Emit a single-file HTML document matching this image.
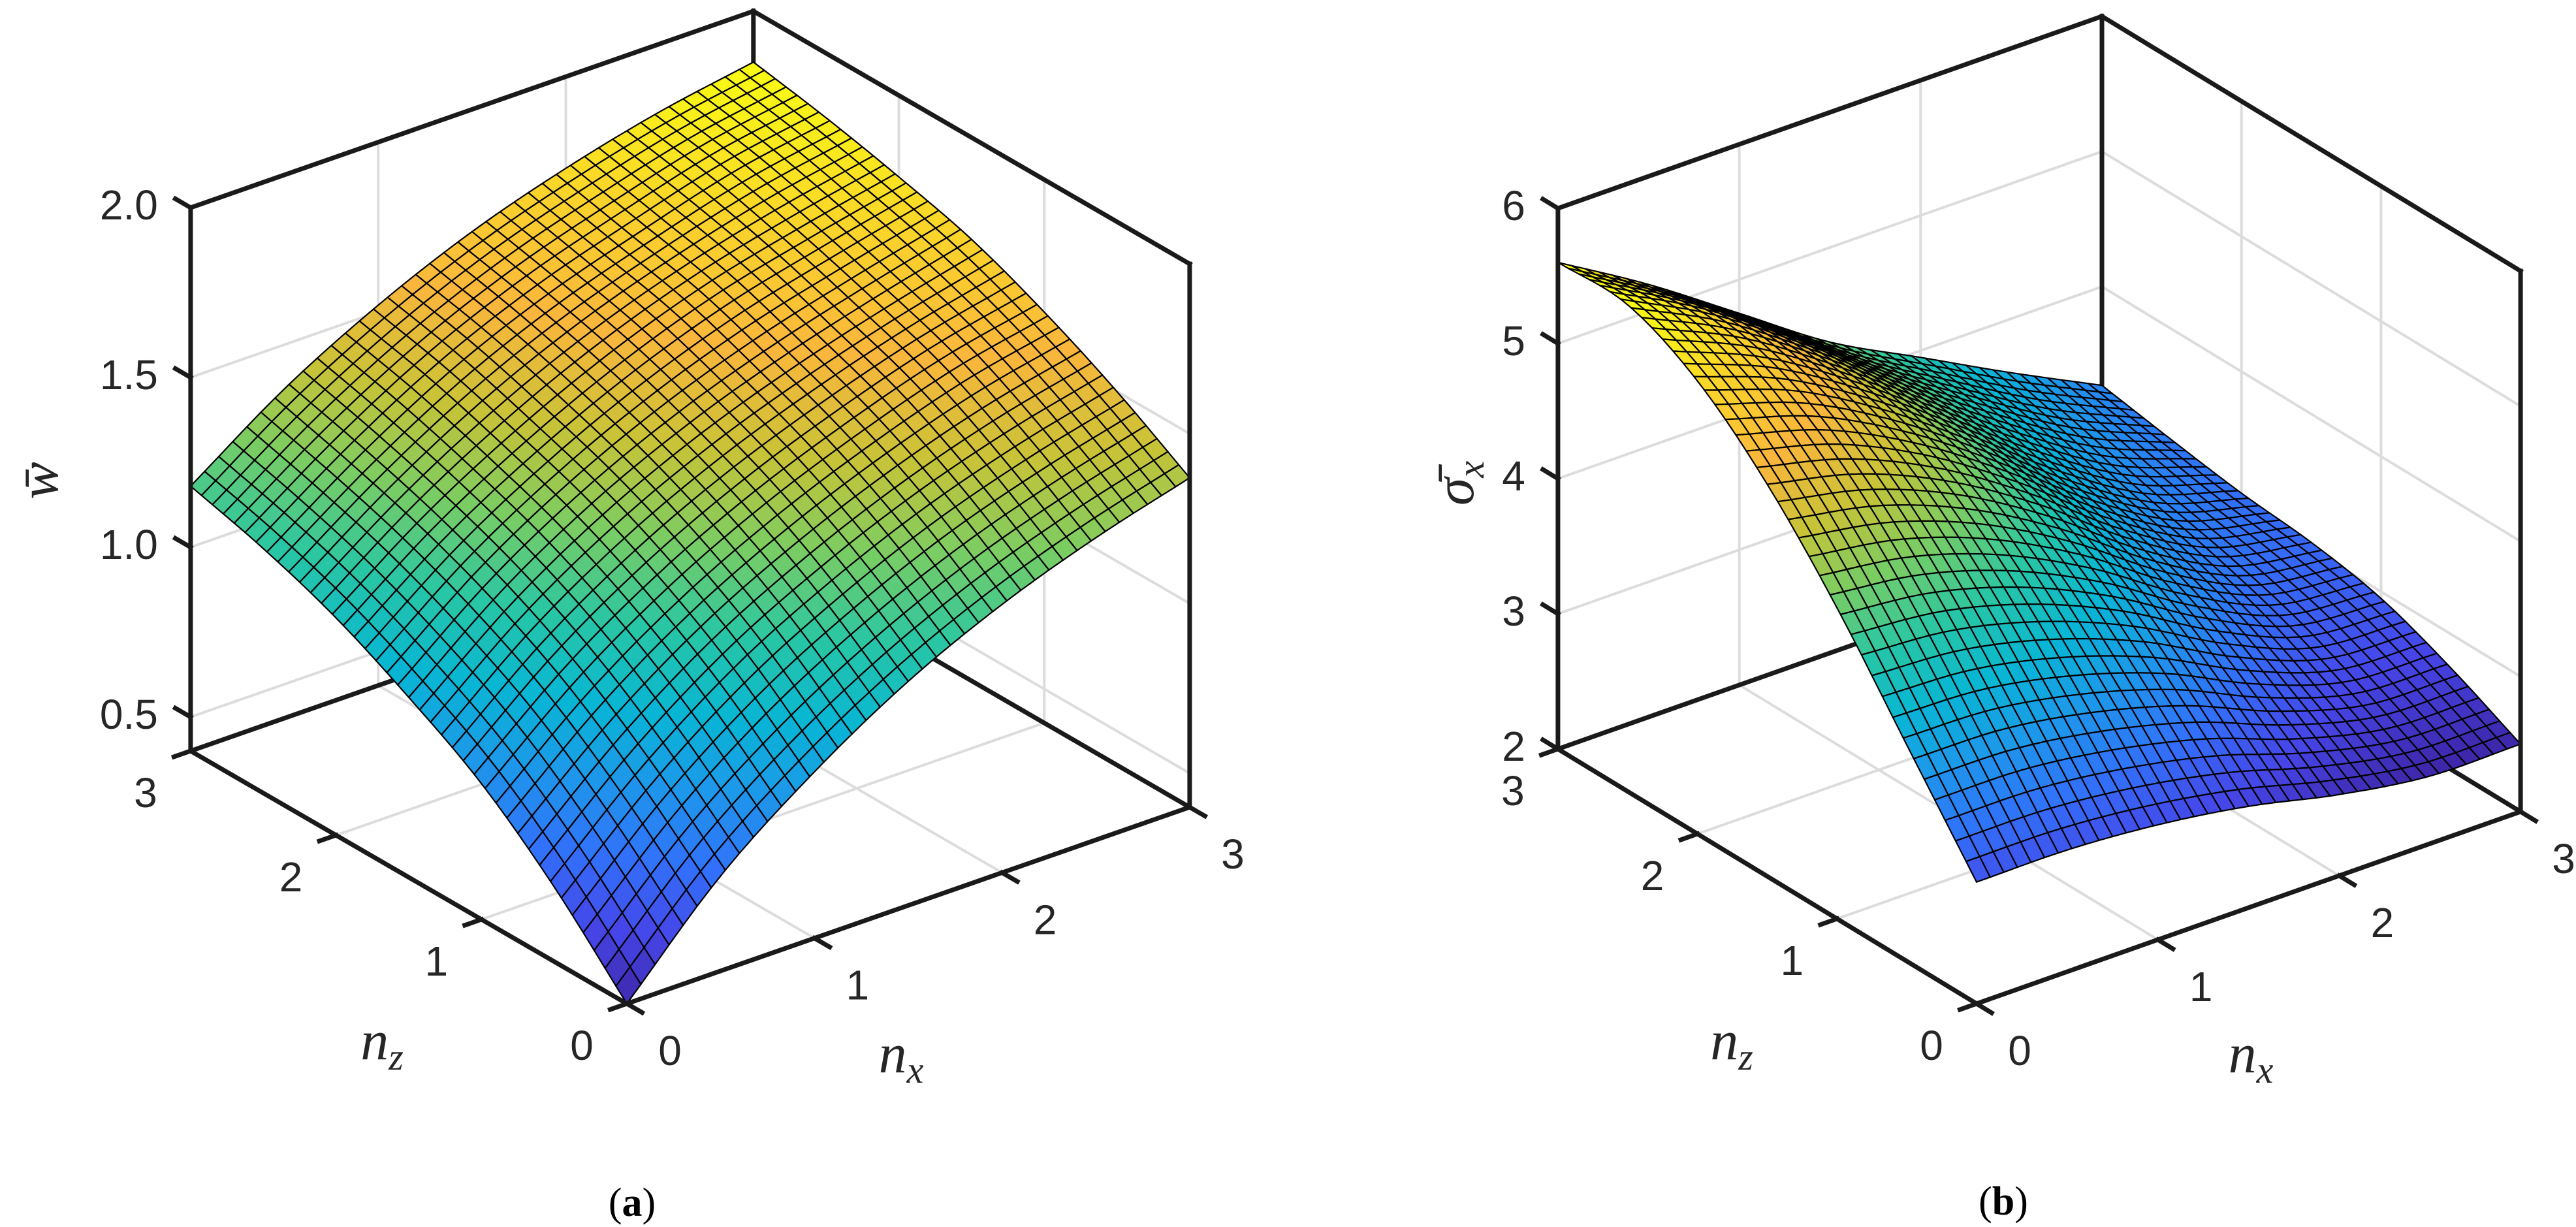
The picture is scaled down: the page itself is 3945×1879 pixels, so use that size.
<!DOCTYPE html>
<html><head><meta charset="utf-8"><title>Surface plots</title>
<style>html,body{margin:0;padding:0;background:#fff}svg{display:block}</style></head>
<body>
<svg id="fig" xmlns="http://www.w3.org/2000/svg" width="3945" height="1879" viewBox="0 0 3945 1879">
<rect x="0" y="0" width="3945" height="1879" fill="#fff"/>
<g id="chartA"></g>
<g id="chartB"></g>
<text x="968" y="1862" font-family="Liberation Serif, serif" font-size="62" text-anchor="middle" fill="#000">(<tspan font-weight="bold">a</tspan>)</text>
<text x="3068" y="1860" font-family="Liberation Serif, serif" font-size="62" text-anchor="middle" fill="#000">(<tspan font-weight="bold">b</tspan>)</text>
</svg>
<script>
// ---- data ----
const gridNx = [0, 0.5, 1, 1.5, 2, 2.5, 3];
const gridNz = [0, 0.5, 1, 1.5, 2, 2.5, 3];
// w-bar values, rows = nz, columns = nx
const wValues = [
 [0.40,0.68,0.89,1.06,1.19,1.29,1.37],
 [0.62,0.87,1.07,1.22,1.34,1.43,1.50],
 [0.80,1.03,1.21,1.35,1.46,1.55,1.61],
 [0.93,1.15,1.32,1.45,1.55,1.63,1.70],
 [1.04,1.24,1.40,1.53,1.63,1.70,1.76],
 [1.12,1.31,1.47,1.59,1.68,1.76,1.81],
 [1.18,1.37,1.52,1.64,1.73,1.80,1.85]
];
// sigma-x-bar values, rows = nz, columns = nx
const sValues = [
 [2.90,2.90,2.85,2.75,2.60,2.50,2.50],
 [3.60,3.58,3.46,3.26,2.97,2.77,2.75],
 [4.30,4.22,4.02,3.71,3.31,3.01,2.95],
 [4.90,4.74,4.45,4.04,3.55,3.18,3.05],
 [5.35,5.10,4.71,4.23,3.72,3.31,3.10],
 [5.60,5.26,4.81,4.32,3.87,3.46,3.18],
 [5.60,5.20,4.75,4.30,3.95,3.60,3.27]
];
const nxTicks = [0,1,2,3];
const nzTicks = [0,1,2,3];
const zTicksA = [0.5,1.0,1.5,2.0];
const zTickLabelsA = ['0.5','1.0','1.5','2.0'];
const zTicksB = [2,3,4,5,6];
const zTickLabelsB = ['2','3','4','5','6'];

const NS='http://www.w3.org/2000/svg';
const parula=[[0,[62,38,168]],[0.1,[70,70,232]],[0.2,[50,112,250]],[0.3,[30,150,235]],[0.4,[8,182,212]],[0.5,[40,198,165]],[0.6,[120,205,100]],[0.7,[200,195,55]],[0.8,[250,182,60]],[0.9,[250,212,42]],[1,[249,251,20]]];
function cmap(t){t=Math.max(0,Math.min(1,t));for(let i=1;i<parula.length;i++){if(t<=parula[i][0]){const a=parula[i-1],b=parula[i];const f=(t-a[0])/(b[0]-a[0]);const c=a[1].map((v,k)=>Math.round(v+(b[1][k]-v)*f));return 'rgb('+c.join(',')+')';}}return 'rgb(249,251,20)';}
function cr(p0,p1,p2,p3,t){return 0.5*((2*p1)+(-p0+p2)*t+(2*p0-5*p1+4*p2-p3)*t*t+(-p0+3*p1-3*p2+p3)*t*t*t);}
function getV(d,r,c){const n=d.length,m=d[0].length;
 if(r<0)return 2*getV(d,0,c)-getV(d,1,c);
 if(r>n-1)return 2*getV(d,n-1,c)-getV(d,n-2,c);
 if(c<0)return 2*getV(d,r,0)-getV(d,r,1);
 if(c>m-1)return 2*getV(d,r,m-1)-getV(d,r,m-2);
 return d[r][c];}
function interp(d,gc,gr){const n=d.length,m=d[0].length;
 const r0=Math.min(Math.floor(gr),n-2),tr=gr-r0;const c0=Math.min(Math.floor(gc),m-2),tc=gc-c0;
 const rows=[];for(let k=-1;k<=2;k++){rows.push(cr(getV(d,r0+k,c0-1),getV(d,r0+k,c0),getV(d,r0+k,c0+1),getV(d,r0+k,c0+2),tc));}
 return cr(rows[0],rows[1],rows[2],rows[3],tr);}
function el(parent,tag,attrs){const e=document.createElementNS(NS,tag);for(const k in attrs)e.setAttribute(k,attrs[k]);parent.appendChild(e);return e;}

function drawChart(g,cfg){
 const P=(nx,nz,z)=>[cfg.O[0]+nx*cfg.ex[0]+nz*cfg.ez[0], cfg.O[1]+nx*cfg.ex[1]+nz*cfg.ez[1]-(z-cfg.zmin)*cfg.zper];
 const pts=a=>a.map(p=>p[0].toFixed(1)+','+p[1].toFixed(1)).join(' ');
 const line=(a,b,stroke,w,name)=>{const l=el(g,'line',{x1:a[0],y1:a[1],x2:b[0],y2:b[1],stroke:stroke,'stroke-width':w,'stroke-linecap':'square'});
  
  return l;};
 const GR='#dcdcdc',zt=cfg.zticks,zmin=cfg.zmin,zmax=cfg.zmax;
 for(const t of nxTicks){if(t===0||t===3)continue;
  line(P(t,0,zmin),P(t,3,zmin),GR,4,'floor-grid-nx');
  line(P(t,3,zmin),P(t,3,zmax),GR,4,'wall-grid-nx');}
 for(const t of nzTicks){if(t===0||t===3)continue;
  line(P(0,t,zmin),P(3,t,zmin),GR,4,'floor-grid-nz');
  line(P(3,t,zmin),P(3,t,zmax),GR,4,'wall-grid-nz');}
 for(const z of zt){if(z<=zmin||z>=zmax)continue;
  line(P(0,3,z),P(3,3,z),GR,4,'wall-grid-z');
  line(P(3,3,z),P(3,0,z),GR,4,'wall-grid-z');}
 const K='#1a1a1a';
 line(P(0,3,zmin),P(3,3,zmin),K,7,'box-edge-back-left');
 line(P(3,3,zmin),P(3,0,zmin),K,7,'box-edge-back-right');
 line(P(3,3,zmin),P(3,3,zmax),K,7,'box-edge-back-vertical');
 line(P(0,3,zmax),P(3,3,zmax),K,7,'box-edge-top-left');
 line(P(3,3,zmax),P(3,0,zmax),K,7,'box-edge-top-right');
 const data=cfg.data;const N=40;
 let lo=Infinity,hi=-Infinity;data.forEach(r=>r.forEach(v=>{lo=Math.min(lo,v);hi=Math.max(hi,v);}));
 const nc=data[0].length-1,nr=data.length-1;
 const Z=[];for(let j=0;j<=N;j++){Z.push([]);for(let i=0;i<=N;i++){Z[j].push(interp(data,i/N*nc,j/N*nr));}}
 const xAt=i=>gridNx[0]+(gridNx[gridNx.length-1]-gridNx[0])*i/N;
 const zAt=j=>gridNz[0]+(gridNz[gridNz.length-1]-gridNz[0])*j/N;
 const quads=[];for(let j=0;j<N;j++)for(let i=0;i<N;i++)quads.push([i,j,-(cfg.ex[1]*(i+.5)+cfg.ez[1]*(j+.5))]);
 quads.sort((a,b)=>b[2]-a[2]);
 const sg=el(g,'g',{});
 
 
 for(const [i,j] of quads){
  const v=(Z[j][i]+Z[j][i+1]+Z[j+1][i]+Z[j+1][i+1])/4;
  const poly=[P(xAt(i),zAt(j),Z[j][i]),P(xAt(i+1),zAt(j),Z[j][i+1]),P(xAt(i+1),zAt(j+1),Z[j+1][i+1]),P(xAt(i),zAt(j+1),Z[j+1][i])];
  const p=el(sg,'polygon',{points:pts(poly),fill:cmap((v-lo)/(hi-lo)),stroke:'#000','stroke-width':2.2,'stroke-linejoin':'round'});
  
  
 }
 line(P(0,3,zmin),P(0,3,zmax),K,7,'z-axis');
 line(P(3,0,zmin),P(3,0,zmax),K,7,'box-edge-right-vertical');
 line(P(0,0,zmin),P(0,3,zmin),K,7,'nz-axis');
 line(P(0,0,zmin),P(3,0,zmin),K,7,'nx-axis');
 const TL=27;
 const nrm=v=>{const l=Math.hypot(v[0],v[1]);return [v[0]/l,v[1]/l];};
 const dz=nrm(cfg.ez),dx=nrm(cfg.ex);
 const tf='Liberation Sans, sans-serif',tc='#262626';
 const txt=(x,y,s,name,anchor)=>{const t=el(g,'text',{x:x,y:y,'font-family':tf,'font-size':64,fill:tc,'text-anchor':anchor||'middle','dominant-baseline':'central'});t.textContent=s;
  
  };
 zt.forEach((z,k)=>{const a=P(0,3,z);line(a,[a[0]+dz[0]*TL,a[1]+dz[1]*TL],K,7,'z-tick');
  txt(a[0]-50,a[1]-4,cfg.zlabels[k],'z-tick-label','end');});
 for(const t of nxTicks){const a=P(t,0,zmin);line(a,[a[0]-dz[0]*TL,a[1]-dz[1]*TL],K,7,'nx-tick');
  txt(a[0]+66,a[1]+72,String(t),'nx-tick-label');}
 for(const t of nzTicks){const a=P(0,t,zmin);line(a,[a[0]-dx[0]*TL,a[1]-dx[1]*TL],K,7,'nz-tick');
  txt(a[0]-69,a[1]+64,String(t),'nz-tick-label');}
 const O=cfg.O;
 const lab=(x,y,sub,name)=>{const t=el(g,'text',{x:x,y:y,'font-family':'Liberation Serif, serif','font-style':'italic','font-size':86,fill:tc,'text-anchor':'middle'});
  t.innerHTML='n<tspan font-size="58" dy="16">'+sub+'</tspan>';
  
  };
 lab(O[0]+420,O[1]+105,'x','nx-axis-title');
 lab(O[0]-375,O[1]+85,'z','nz-axis-title');
 const yl=el(g,'text',{x:0,y:0,transform:'translate('+cfg.ylab[0]+','+cfg.ylab[1]+') rotate(-90)','font-family':'Liberation Serif, DejaVu Serif, serif','font-style':'italic','font-size':86,fill:tc,'text-anchor':'middle'});
 yl.innerHTML=cfg.ytext;
 
 
}
drawChart(document.getElementById('chartA'),{O:[960,1537],ex:[287.3,-100.3],ez:[-222.7,-129],zmin:0.4,zmax:2.0,zper:520,zticks:zTicksA,zlabels:zTickLabelsA,data:wValues,ylab:[88,736],ytext:'w\u0304'});
drawChart(document.getElementById('chartB'),{O:[3027,1537],ex:[277.7,-98],ez:[-213.7,-130],zmin:2,zmax:6,zper:207,zticks:zTicksB,zlabels:zTickLabelsB,data:sValues,ylab:[2256,740],ytext:'\u03c3\u0304<tspan font-size="58" dy="16">x</tspan>'});
</script>
</body></html>
